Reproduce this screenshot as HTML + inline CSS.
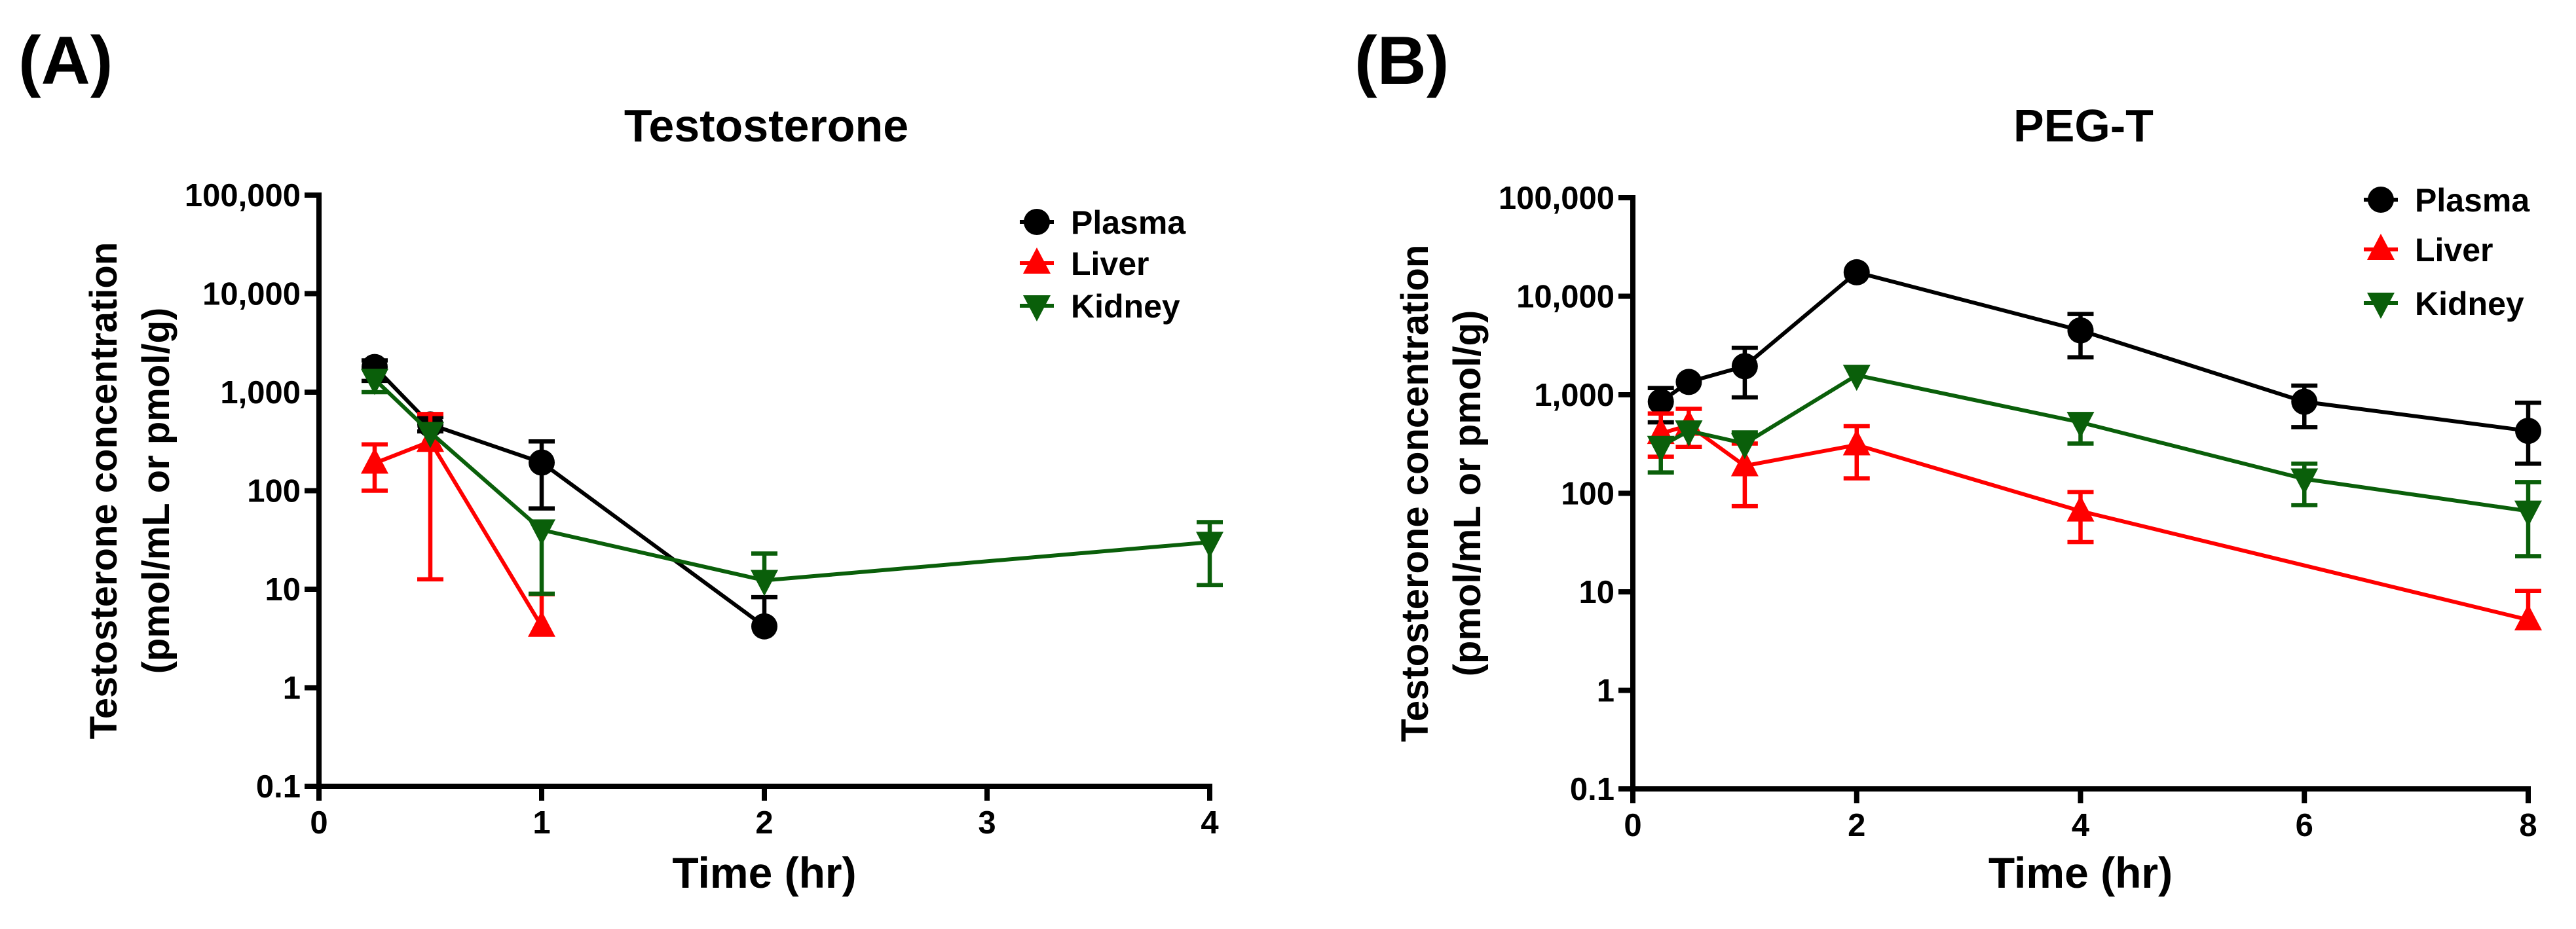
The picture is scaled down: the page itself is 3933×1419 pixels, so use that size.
<!DOCTYPE html>
<html><head><meta charset="utf-8"><style>
html,body{margin:0;padding:0;background:#fff}
svg{display:block}
text{font-family:"Liberation Sans",Arial,sans-serif;font-weight:bold;fill:#000}
</style></head><body>
<svg id="fig" width="3933" height="1419" viewBox="0 0 3933 1419" xmlns="http://www.w3.org/2000/svg"></svg>
<script>
// ---- Panel A data (Testosterone) ----
const timesA = [0.25, 0.5, 1, 2, 4];
const plasmaA = [1800, 470, 193, 4.2, null];
const plasmaAUp = [2100, 560, 316, 8.3, null];
const plasmaALo = [1300, 400, 66, 4.2, null];
const liverA = [190, 316, 4.2, null, null];
const liverAUp = [295, 600, 8.9, null, null];
const liverALo = [100, 12.6, 4.2, null, null];
const kidneyA = [1350, 390, 40, 12.3, 30];
const kidneyAUp = [1350, 390, 40, 23, 48];
const kidneyALo = [1000, 390, 9, 12.3, 11];
const xTicksA = [0, 1, 2, 3, 4];
// ---- Panel B data (PEG-T) ----
const timesB = [0.25, 0.5, 1, 2, 4, 6, 8];
const plasmaB = [850, 1350, 1950, 17500, 4500, 850, 430];
const plasmaBUp = [1170, 1350, 3000, 17500, 6600, 1240, 830];
const plasmaBLo = [525, 1350, 940, 17500, 2400, 470, 200];
const liverB = [405, 490, 190, 310, 66, null, 5.2];
const liverBUp = [645, 720, 320, 480, 103, null, 10.2];
const liverBLo = [235, 295, 74, 142, 32, null, 5.2];
const kidneyB = [300, 430, 320, 1580, 525, 140, 66];
const kidneyBUp = [300, 430, 415, 1580, 525, 200, 130];
const kidneyBLo = [163, 430, 320, 1580, 320, 76, 23];
const xTicksB = [0, 2, 4, 6, 8];
const yTicks = [0.1, 1, 10, 100, 1000, 10000, 100000];
const yTickLabels = ["0.1", "1", "10", "100", "1,000", "10,000", "100,000"];
const seriesNames = ["Plasma", "Liver", "Kidney"];

const NS = "http://www.w3.org/2000/svg";
const svg = document.getElementById("fig");
function mk(tag, attrs, parent) {
  const e = document.createElementNS(NS, tag);
  for (const k in attrs) e.setAttribute(k, attrs[k]);
  (parent || svg).appendChild(e);
  return e;
}
const colors = ["#000000", "#ff0000", "#0a5f0a"];
const shapes = ["circle", "up", "down"];

function marker(g, shape, x, y, col, name) {
  let el;
  if (shape === "circle") {
    el = mk("circle", {cx: x, cy: y, r: 20, fill: col}, g);
  } else if (shape === "up") {
    el = mk("polygon", {points: `${x},${y-24} ${x-21},${y+16} ${x+21},${y+16}`, fill: col}, g);
  } else {
    el = mk("polygon", {points: `${x},${y+24} ${x-21},${y-16} ${x+21},${y-16}`, fill: col}, g);
  }
  
  
}

function panel(cfg) {
  const g = mk("g", {});
  
  
  const X = t => cfg.x0 + (t - cfg.xmin) / (cfg.xmax - cfg.xmin) * (cfg.x1 - cfg.x0);
  const Y = v => cfg.yb - (Math.log10(v) + 1) / 6 * (cfg.yb - cfg.yt);
  const ax = mk("line", {x1: cfg.x0, y1: cfg.yt - 4, x2: cfg.x0, y2: cfg.yb + 4, stroke: "#000", "stroke-width": 8}, g);
   
  const axx = mk("line", {x1: cfg.x0 - 4, y1: cfg.yb, x2: cfg.x1 + 4, y2: cfg.yb, stroke: "#000", "stroke-width": 8}, g);
   
  yTicks.forEach((v, i) => {
    const y = Y(v);
    const tk = mk("line", {x1: cfg.x0 - 22, y1: y, x2: cfg.x0, y2: y, stroke: "#000", "stroke-width": 8}, g);
     
    const t = mk("text", {x: cfg.x0 - 28, y: y + 17, "text-anchor": "end", "font-size": 49}, g);
    t.textContent = yTickLabels[i];
     
  });
  cfg.xticks.forEach(v => {
    const x = X(v);
    const tk = mk("line", {x1: x, y1: cfg.yb, x2: x, y2: cfg.yb + 22, stroke: "#000", "stroke-width": 8}, g);
     
    const t = mk("text", {x: x, y: cfg.yb + 72, "text-anchor": "middle", "font-size": 49}, g);
    t.textContent = String(v);
     
  });
  cfg.series.forEach((s, si) => {
    const sg = mk("g", {}, g);
    
    
    const col = colors[si];
    cfg.times.forEach((t, i) => {
      if (s.v[i] == null) return;
      const x = X(t);
      [s.up[i], s.lo[i]].forEach(e => {
        if (e == null || e === s.v[i]) return;
        const l = mk("line", {x1: x, y1: Y(s.v[i]), x2: x, y2: Y(e), stroke: col, "stroke-width": 6.5}, sg);
         
        const c = mk("line", {x1: x - 20, y1: Y(e), x2: x + 20, y2: Y(e), stroke: col, "stroke-width": 6.5}, sg);
         
      });
    });
    let pts = [];
    cfg.times.forEach((t, i) => { if (s.v[i] != null) pts.push(X(t) + "," + Y(s.v[i])); });
    const pl = mk("polyline", {points: pts.join(" "), fill: "none", stroke: col, "stroke-width": 6}, sg);
     
    cfg.times.forEach((t, i) => {
      if (s.v[i] != null) marker(sg, shapes[si], X(t), Y(s.v[i]), col, 'data-point');
    });
  });
  seriesNames.forEach((n, i) => {
    const ly = cfg.legY[i];
    const lg = mk("g", {}, g);
     
    const ll = mk("line", {x1: cfg.legX - 26, y1: ly, x2: cfg.legX + 26, y2: ly, stroke: colors[i], "stroke-width": 6}, lg);
     
    marker(lg, shapes[i], cfg.legX, ly, colors[i], 'legend-marker');
    const t = mk("text", {x: cfg.legX + 52, y: ly + 18, "font-size": 50}, lg);
    t.textContent = n;
     
  });
  const tt = mk("text", {x: cfg.titleX, y: 216, "text-anchor": "middle", "font-size": 70}, g);
  tt.textContent = cfg.title;
   
  const pl = mk("text", {x: cfg.labX, y: 128, "font-size": 104}, g);
  pl.textContent = cfg.label;
   
  const xt = mk("text", {x: (cfg.x0 + cfg.x1) / 2, y: 1356, "text-anchor": "middle", "font-size": 66}, g);
  xt.textContent = "Time (hr)";
   
  const cy = (cfg.yt + cfg.yb) / 2;
  const yt1 = mk("text", {x: 0, y: 0, "text-anchor": "middle", "font-size": 58, transform: `translate(${cfg.yTitleX},${cy}) rotate(-90)`}, g);
  yt1.textContent = "Testosterone concentration";
   
  const yt2 = mk("text", {x: 0, y: 0, "text-anchor": "middle", "font-size": 58, transform: `translate(${cfg.yTitleX + 80},${cy}) rotate(-90)`}, g);
  yt2.textContent = "(pmol/mL or pmol/g)";
   
}

panel({name: "panel-a-testosterone", x0: 487, x1: 1847, xmin: 0, xmax: 4, yt: 298, yb: 1201,
  xticks: xTicksA, times: timesA,
  series: [{v: plasmaA, up: plasmaAUp, lo: plasmaALo}, {v: liverA, up: liverAUp, lo: liverALo}, {v: kidneyA, up: kidneyAUp, lo: kidneyALo}],
  legX: 1583, legY: [339, 402, 467], title: "Testosterone", titleX: 1170, label: "(A)", labX: 28, yTitleX: 178});
panel({name: "panel-b-peg-t", x0: 2493, x1: 3860, xmin: 0, xmax: 8, yt: 302, yb: 1205,
  xticks: xTicksB, times: timesB,
  series: [{v: plasmaB, up: plasmaBUp, lo: plasmaBLo}, {v: liverB, up: liverBUp, lo: liverBLo}, {v: kidneyB, up: kidneyBUp, lo: kidneyBLo}],
  legX: 3635, legY: [305, 381, 463], title: "PEG-T", titleX: 3181, label: "(B)", labX: 2068, yTitleX: 2180});
</script>
</body></html>
